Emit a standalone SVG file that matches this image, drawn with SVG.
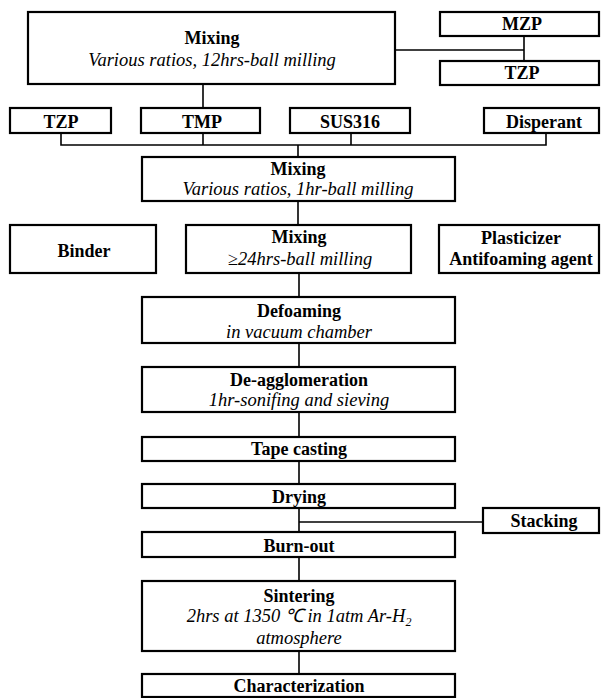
<svg xmlns="http://www.w3.org/2000/svg" width="601" height="698" viewBox="0 0 601 698">
<style>
rect{fill:#fff;stroke:#000;stroke-width:2.2}
.c line,.c polyline{stroke:#000;stroke-width:1.6;fill:none}
text{font-family:"Liberation Serif","Times New Roman",serif;font-size:18px;text-anchor:middle;fill:#000}
.b{font-weight:bold}
.i{font-style:italic;font-size:18.5px}
</style>
<rect x="0" y="0" width="601" height="698" style="stroke:none"/>
<g class="c" id="connectors">
<line x1="203" y1="84" x2="203" y2="108"/>
<line x1="395" y1="50" x2="524" y2="50"/>
<line x1="524" y1="36" x2="524" y2="61"/>
<polyline points="61,133 61,145 546,145 546,133"/>
<line x1="203" y1="133" x2="203" y2="145"/>
<line x1="351" y1="133" x2="351" y2="145"/>
<line x1="298" y1="145" x2="298" y2="157"/>
<line x1="298" y1="201" x2="298" y2="225"/>
<line x1="299" y1="273" x2="299" y2="297"/>
<line x1="299" y1="343" x2="299" y2="367"/>
<line x1="299" y1="412" x2="299" y2="437"/>
<line x1="299" y1="461" x2="299" y2="484"/>
<line x1="299" y1="508" x2="299" y2="532"/>
<line x1="299" y1="522" x2="483" y2="522"/>
<line x1="299" y1="557" x2="299" y2="581"/>
<line x1="299" y1="651" x2="299" y2="674"/>
</g>
<g id="mixing1"><rect x="28" y="12" width="367" height="72"/><text x="212" y="44" class="b">Mixing</text><text x="212" y="66" class="i">Various ratios, 12hrs-ball milling</text></g>
<g id="mzp"><rect x="440" y="12" width="159" height="24"/><text x="522" y="30" class="b">MZP</text></g>
<g id="tzp2"><rect x="440" y="61" width="159" height="24"/><text x="522" y="79" class="b">TZP</text></g>
<g id="tzp1"><rect x="10" y="108" width="101" height="25"/><text x="61" y="128" class="b">TZP</text></g>
<g id="tmp"><rect x="141" y="108" width="119" height="25"/><text x="202" y="128" class="b">TMP</text></g>
<g id="sus316"><rect x="290" y="108" width="120" height="25"/><text x="350" y="128" class="b">SUS316</text></g>
<g id="disperant"><rect x="484" y="108" width="115" height="25"/><text x="544" y="128" class="b">Disperant</text></g>
<g id="mixing2"><rect x="142" y="157" width="313" height="44"/><text x="298" y="175" class="b">Mixing</text><text x="298" y="195" class="i">Various ratios, 1hr-ball milling</text></g>
<g id="binder"><rect x="10" y="225" width="146" height="48"/><text x="84" y="257" class="b">Binder</text></g>
<g id="mixing3"><rect x="186" y="225" width="225" height="48"/><text x="299" y="243" class="b">Mixing</text><text x="300" y="265" class="i">≥24hrs-ball milling</text></g>
<g id="plasticizer"><rect x="439" y="225" width="160" height="48"/><text x="521" y="244" class="b">Plasticizer</text><text x="521" y="265" class="b">Antifoaming agent</text></g>
<g id="defoaming"><rect x="142" y="297" width="313" height="46"/><text x="299" y="317" class="b">Defoaming</text><text x="299" y="338" class="i">in vacuum chamber</text></g>
<g id="deagglomeration"><rect x="142" y="367" width="313" height="45"/><text x="299" y="386" class="b">De-agglomeration</text><text x="299" y="406" class="i">1hr-sonifing and sieving</text></g>
<g id="tapecasting"><rect x="142" y="437" width="313" height="24"/><text x="299" y="455" class="b">Tape casting</text></g>
<g id="drying"><rect x="142" y="484" width="313" height="24"/><text x="299" y="503" class="b">Drying</text></g>
<g id="stacking"><rect x="483" y="508" width="116" height="25"/><text x="544" y="527" class="b">Stacking</text></g>
<g id="burnout"><rect x="142" y="532" width="313" height="25"/><text x="299" y="552" class="b">Burn-out</text></g>
<g id="sintering"><rect x="142" y="581" width="313" height="70"/><text x="299" y="602" class="b">Sintering</text><text x="299" y="622" class="i">2hrs at 1350 ℃  in 1atm Ar-H<tspan dy="4" style="font-size:12px">2</tspan></text><text x="299" y="644" class="i">atmosphere</text></g>
<g id="characterization"><rect x="142" y="674" width="313" height="23"/><text x="299" y="692" class="b">Characterization</text></g>
</svg>
